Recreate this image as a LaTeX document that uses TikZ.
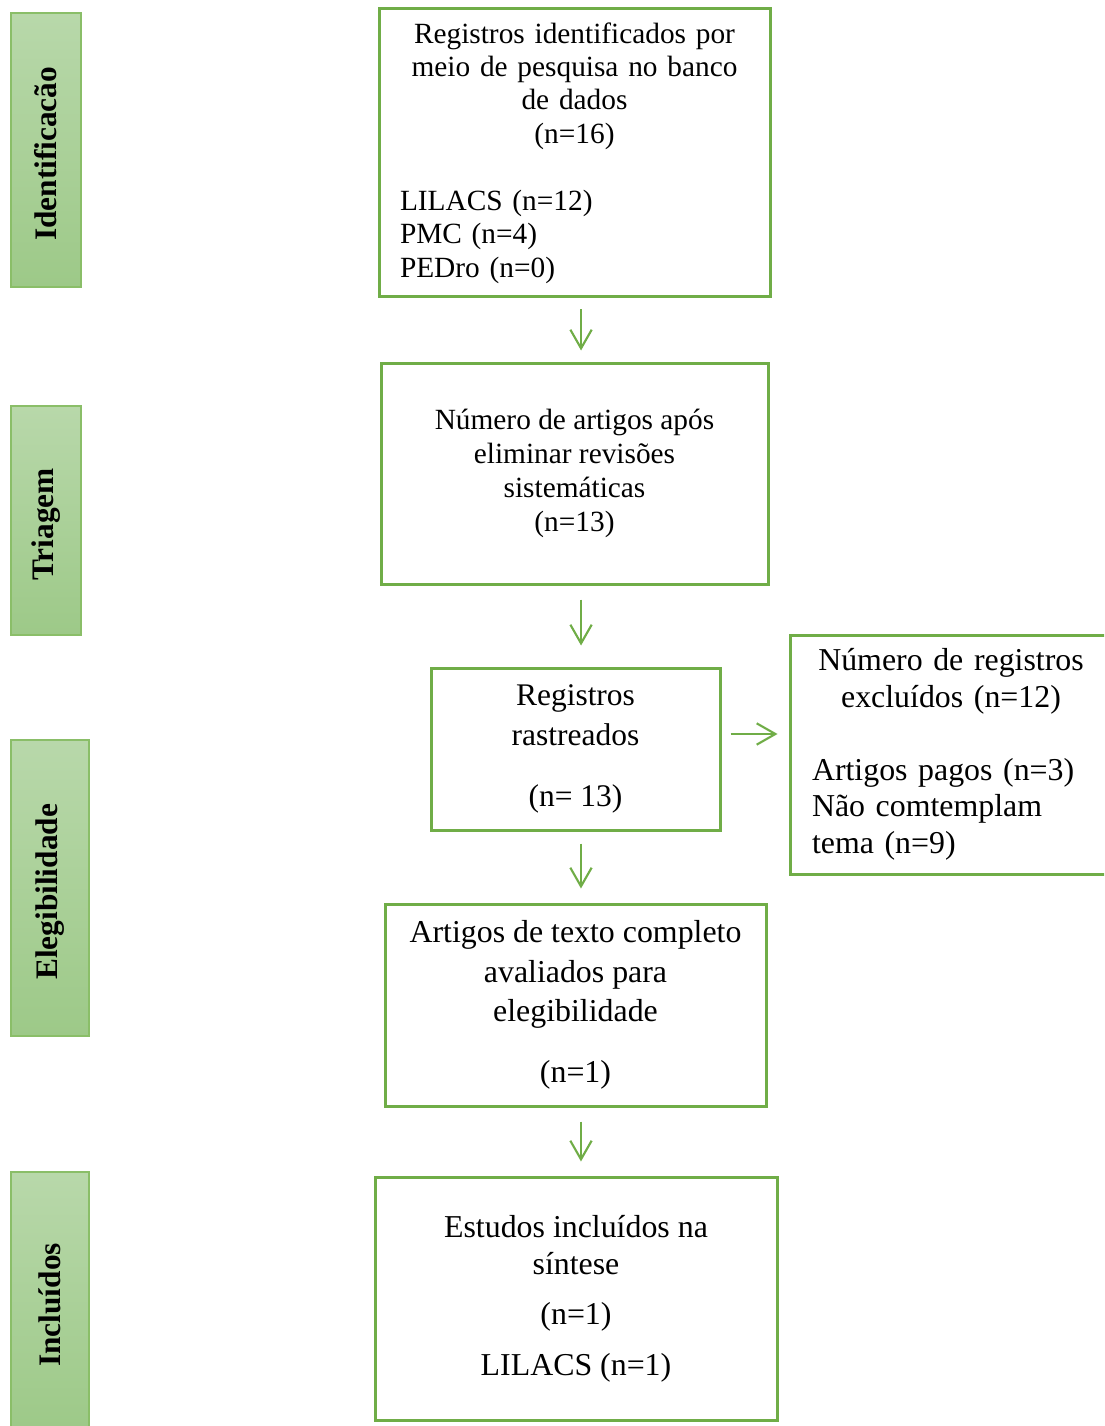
\documentclass[tikz,border=0pt]{standalone}
\usepackage{fontspec}
\setmainfont{Liberation Serif}
\usetikzlibrary{arrows.meta}
\definecolor{boxgreen}{RGB}{112,173,71}
\definecolor{bartop}{RGB}{184,216,170}
\definecolor{barbottom}{RGB}{157,201,136}
\definecolor{barline}{RGB}{138,190,104}

\begin{document}
\begin{tikzpicture}[x=0.75pt, y=-0.75pt
	, box/.style={
	rectangle
	, draw=boxgreen
	, line width=2.25pt
	, align=center
	, inner sep=0pt
}
	, sidebar/.style={
	rectangle
	, draw=barline
	, line width=1.5pt
	, top color=bartop
	, bottom color=barbottom
	, inner sep=0pt
	, font=\fontsize{23.5}{28}\selectfont\bfseries
}
	, arr/.style={draw=boxgreen, line width=1.6pt, -{Straight Barb[length=14pt, width=16pt]}}
]
\useasboundingbox (0,0) rectangle (1104,1426);
\clip (0,0) rectangle (1104,1426);

% phases on the left
\foreach \name/\cx/\cy/\w/\h/\txt in {
	ident/46/150/52.5pt/205.5pt/Identificacão
	, triag/46/520.5/52.5pt/171.75pt/Triagem
	, eleg/50/888/58.5pt/222pt/Elegibilidade
	, incl/50/1301/58.5pt/193.5pt/Incluídos
}{
	\node[sidebar, minimum width=\w, minimum height=\h](\name) at(\cx,\cy) {\rotatebox{90}{\txt}};
}

% flow boxes
\node[box, minimum width=293.25pt, minimum height=216pt, text width=261.75pt, align=left
	, font=\fontsize{22}{25.1}\selectfont](records) at(574.5,153) {{\centering Registros identificados por\\ meio de pesquisa no banco\\ de dados\\ (n=16)\par}\vspace{25.1pt}LILACS (n=12)\\ PMC (n=4)\\ PEDro (n=0)};
\node[box, minimum width=290.25pt, minimum height=165.75pt
	, font=\fontsize{22}{25.5}\selectfont](screened) at(574.5,473.5) {Número de artigos após\\ eliminar revisões\\ sistemáticas\\ (n=13)};
\node[box, minimum width=216.75pt, minimum height=121.5pt
	, font=\fontsize{23.6}{30}\selectfont](tracked) at(575.5,749) {Registros\\ rastreados\\[15.75pt] (n= 13)};
\node[box, minimum width=241.5pt, minimum height=179.25pt, text width=208.5pt, align=left
	, font=\fontsize{23.9}{27.4}\selectfont](excluded) at(951,754.5) {{\centering Número de registros\\ excluídos (n=12)\par}\vspace{27.4pt}Artigos pagos (n=3)\\ Não comtemplam\\ tema (n=9)};
\node[box, minimum width=285.75pt, minimum height=151.5pt
	, font=\fontsize{23.9}{29.6}\selectfont](fulltext) at(575.5,1005) {Artigos de texto completo\\ avaliados para\\ elegibilidade\\[15.75pt] (n=1)};
\node[box, minimum width=301.5pt, minimum height=182.25pt
	, font=\fontsize{23.9}{27.75}\selectfont](included) at(576,1298.5) {Estudos incluídos na\\ síntese\\[10pt] (n=1)\\[10pt] LILACS (n=1)};

% arrows
\draw[arr, shorten <=8.25pt, shorten >=8.25pt] ([xshift=4.9pt]records.south) -- ([xshift=4.9pt]records.south |- screened.north);
\draw[arr, shorten <=10.5pt, shorten >=15.75pt] ([xshift=4.9pt]screened.south) -- ([xshift=4.9pt]screened.south |- tracked.north);
\draw[arr, shorten <=9pt, shorten >=10.5pt] ([xshift=4.1pt]tracked.south) -- ([xshift=4.1pt]tracked.south |- fulltext.north);
\draw[arr, shorten <=10.5pt, shorten >=10.5pt] ([xshift=4.1pt]fulltext.south) -- ([xshift=4.1pt]fulltext.south |- included.north);
\draw[arr, shorten <=6.75pt, shorten >=8.25pt] ([yshift=11.25pt]tracked.east) -- ([yshift=11.25pt]tracked.east -| excluded.west);

\end{tikzpicture}
\end{document}
